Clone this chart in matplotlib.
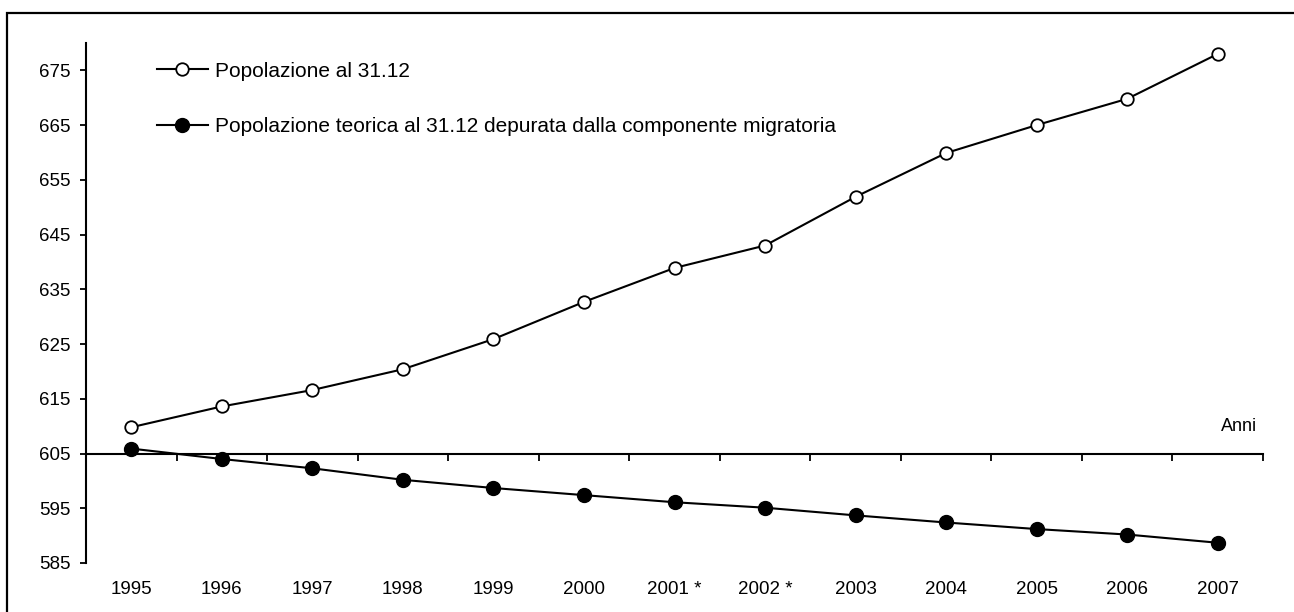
import matplotlib
matplotlib.use("Agg")
import matplotlib.pyplot as plt
import matplotlib.transforms as mtransforms
from matplotlib.patches import Rectangle

plt.rcParams['font.family'] = ['Liberation Sans', 'DejaVu Sans']

years = ["1995", "1996", "1997", "1998", "1999", "2000", "2001 *", "2002 *",
         "2003", "2004", "2005", "2006", "2007"]
pop_3112 = [609.8, 613.6, 616.6, 620.4, 625.9, 632.7, 638.9, 643.0,
            651.9, 659.9, 665.0, 669.8, 678.0]
pop_teorica = [605.9, 604.0, 602.3, 600.2, 598.7, 597.4, 596.1, 595.1,
               593.7, 592.4, 591.2, 590.2, 588.7]
yticks = [585, 595, 605, 615, 625, 635, 645, 655, 665, 675]
label_open = "Popolazione al 31.12"
label_filled = "Popolazione teorica al 31.12 depurata dalla componente migratoria"

W, H = 1294, 612
fig = plt.figure(figsize=(W / 100, H / 100), dpi=100)
ax = fig.add_axes([86 / W, (H - 563) / H, (1263 - 86) / W, (563 - 43) / H])

x = list(range(len(years)))
ax.plot(x, pop_3112, color='black', lw=1.5, marker='o', markersize=9,
        markerfacecolor='white', markeredgecolor='black', markeredgewidth=1.3,
        label=label_open, zorder=3)
ax.plot(x, pop_teorica, color='black', lw=1.5, marker='o', markersize=10,
        markerfacecolor='black', markeredgecolor='black',
        label=label_filled, zorder=3)

ax.set_xlim(-0.5, len(years) - 0.5)
ax.set_ylim(585, 680)

for s in ['top', 'right']:
    ax.spines[s].set_visible(False)
ax.spines['left'].set_bounds(585, 680)
ax.spines['left'].set_linewidth(1.5)
ax.spines['bottom'].set_position(('data', 605))
ax.spines['bottom'].set_linewidth(1.5)

ax.set_yticks(yticks)
ax.set_yticklabels([str(v) for v in yticks], fontsize=13.5)
ax.tick_params(axis='y', direction='out', length=4.3, width=1.3, pad=7)

ax.set_xticks([i + 0.5 for i in x])
ax.set_xticklabels([])
ax.tick_params(axis='x', direction='out', length=5, width=1.3)

trans = mtransforms.blended_transform_factory(ax.transData, ax.transAxes)
for i, lab in zip(x, years):
    ax.text(i, -0.05, lab, transform=trans, ha='center', va='center', fontsize=13.5)

trans2 = mtransforms.blended_transform_factory(ax.transAxes, ax.transData)
ax.text(0.995, 609.9, "Anni", transform=trans2, ha='right', va='center', fontsize=13)

leg = ax.legend(loc='upper left', bbox_to_anchor=(0.053, 0.98), frameon=False,
                fontsize=15, handlelength=2.45, handletextpad=0.33,
                labelspacing=1.75, borderaxespad=0)

fig.patches.append(Rectangle((7 / W, -0.1), 1.2, (H - 13) / H + 0.1,
                             transform=fig.transFigure, fill=False,
                             edgecolor='black', linewidth=1.6))

fig.savefig("out.png", dpi=100)
